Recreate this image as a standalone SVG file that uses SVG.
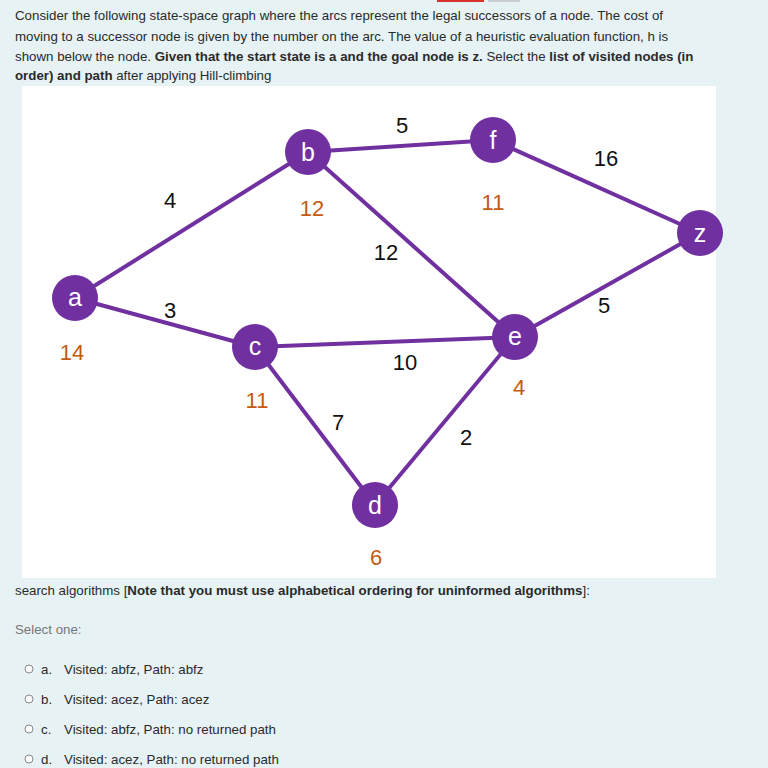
<svg xmlns="http://www.w3.org/2000/svg" width="768" height="768" viewBox="0 0 768 768">
<style>
.t{font-family:"Liberation Sans",Arial,sans-serif;font-size:13.3px;fill:#2a2a2a}
.b{font-weight:bold}
.e{stroke:#7030a0;stroke-width:4;fill:none}
.n{fill:#7030a0}
.l{font-family:"Liberation Sans",Arial,sans-serif;font-size:25px;fill:#fff;text-anchor:middle}
.c{font-family:"Liberation Sans",Arial,sans-serif;font-size:22px;fill:#111;text-anchor:middle}
.h{font-family:"Liberation Sans",Arial,sans-serif;font-size:22px;fill:#c55a11;text-anchor:middle}
.o{fill:#fff;stroke:#888;stroke-width:1}
</style>
<rect width="768" height="768" fill="#e7f2f5"/>
<rect x="437" y="0" width="47" height="2" fill="#d9302a"/>
<rect x="488" y="0" width="32" height="2" fill="#c8cdd0"/>
<text class="t" x="15" y="20">Consider the following state-space graph where the arcs represent the legal successors of a node. The cost of</text>
<text class="t" x="15" y="41">moving to a successor node is given by the number on the arc. The value of a heuristic evaluation function, h is</text>
<text class="t" x="15" y="61">shown below the node. <tspan class="b">Given that the start state is a and the goal node is z.</tspan> Select the <tspan class="b">list of visited nodes (in</tspan></text>
<text class="t" x="15" y="80"><tspan class="b">order) and path</tspan> after applying Hill-climbing</text>
<rect x="22" y="86" width="694" height="492" fill="#fff"/>
<g id="connectors">
<line class="e" x1="75" y1="298" x2="308" y2="152"/>
<line class="e" x1="75" y1="298" x2="255" y2="347"/>
<line class="e" x1="308" y1="152" x2="493" y2="140"/>
<line class="e" x1="308" y1="152" x2="515" y2="337"/>
<line class="e" x1="493" y1="140" x2="700" y2="233"/>
<line class="e" x1="255" y1="347" x2="515" y2="337"/>
<line class="e" x1="255" y1="347" x2="375" y2="505"/>
<line class="e" x1="515" y1="337" x2="700" y2="233"/>
<line class="e" x1="515" y1="337" x2="375" y2="505"/>
</g>
<g id="costs">
<text class="c" x="170" y="208">4</text>
<text class="c" x="170" y="318">3</text>
<text class="c" x="402" y="133">5</text>
<text class="c" x="606" y="166">16</text>
<text class="c" x="386" y="260">12</text>
<text class="c" x="604" y="313">5</text>
<text class="c" x="405" y="370">10</text>
<text class="c" x="338" y="430">7</text>
<text class="c" x="466" y="445">2</text>
</g>
<g id="node-a"><circle class="n" cx="75" cy="298" r="23"/><text class="l" x="75" y="306">a</text><text class="h" x="72" y="360">14</text></g>
<g id="node-b"><circle class="n" cx="308" cy="152" r="23"/><text class="l" x="308" y="161">b</text><text class="h" x="312" y="216">12</text></g>
<g id="node-f"><circle class="n" cx="493" cy="140" r="23"/><text class="l" x="493" y="149">f</text><text class="h" x="493" y="210">11</text></g>
<g id="node-z"><circle class="n" cx="700" cy="233" r="23"/><text class="l" x="700" y="242">z</text></g>
<g id="node-c"><circle class="n" cx="255" cy="347" r="23"/><text class="l" x="255" y="355">c</text><text class="h" x="257" y="408">11</text></g>
<g id="node-e"><circle class="n" cx="515" cy="337" r="23"/><text class="l" x="515" y="345">e</text><text class="h" x="519" y="395">4</text></g>
<g id="node-d"><circle class="n" cx="375" cy="505" r="23"/><text class="l" x="375" y="514">d</text><text class="h" x="376" y="565">6</text></g>
<text class="t" x="15" y="595">search algorithms [<tspan class="b">Note that you must use alphabetical ordering for uninformed algorithms</tspan>]:</text>
<text class="t" x="15" y="634" style="fill:#777">Select one:</text>
<circle class="o" cx="29" cy="669" r="4"/><text class="t" x="41" y="674">a.</text><text class="t" x="64" y="674">Visited: abfz, Path: abfz</text>
<circle class="o" cx="29" cy="699" r="4"/><text class="t" x="41" y="704">b.</text><text class="t" x="64" y="704">Visited: acez, Path: acez</text>
<circle class="o" cx="29" cy="729" r="4"/><text class="t" x="41" y="734">c.</text><text class="t" x="64" y="734">Visited: abfz, Path: no returned path</text>
<circle class="o" cx="29" cy="759" r="4"/><text class="t" x="41" y="764">d.</text><text class="t" x="64" y="764">Visited: acez, Path: no returned path</text>
</svg>
